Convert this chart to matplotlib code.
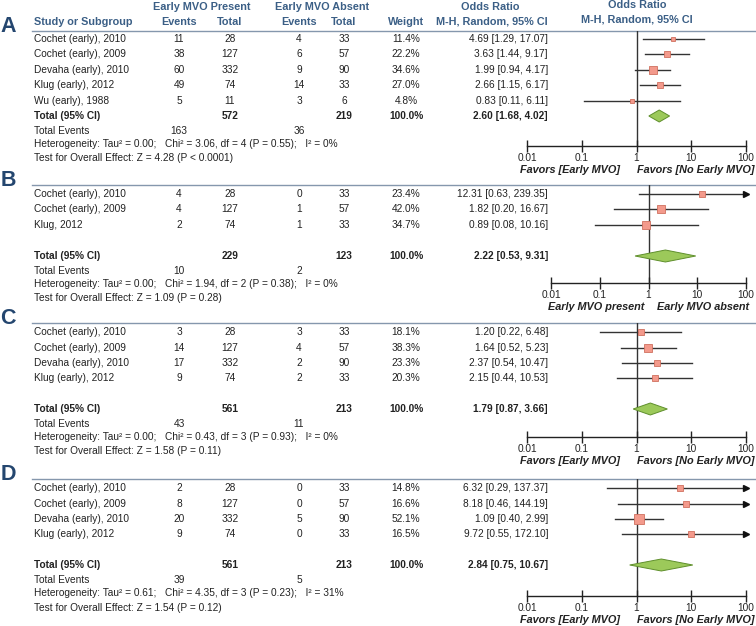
import numpy as np
import matplotlib
matplotlib.use("Agg")
import matplotlib.pyplot as plt

plt.rcParams['font.family'] = ['Liberation Sans', 'DejaVu Sans']

W, H = 756, 626
TXT = '#222222'
HEAD = '#3b5f86'
LETTER = '#24466f'
RULE = '#8597ad'
SQ_FACE, SQ_EDGE = '#f39a8c', '#d0705f'
DIA_FACE, DIA_EDGE = '#9cc95a', '#5f8f2c'
FS = 7.3

# ---- data ----
a_study = ["Cochet (early), 2010", "Cochet (early), 2009", "Devaha (early), 2010",
           "Klug (early), 2012", "Wu (early), 1988"]
a_ev_pres = [11, 38, 60, 49, 5]
a_n_pres = [28, 127, 332, 74, 11]
a_ev_abs = [4, 6, 9, 14, 3]
a_n_abs = [33, 57, 90, 33, 6]
a_weight = [11.4, 22.2, 34.6, 27.0, 4.8]
a_or = [4.69, 3.63, 1.99, 2.66, 0.83]
a_lo = [1.29, 1.44, 0.94, 1.15, 0.11]
a_hi = [17.07, 9.17, 4.17, 6.17, 6.11]
a_pool = (2.60, 1.68, 4.02)
a_tot = (572, 219)
a_tev = (163, 36)
a_het = "Heterogeneity: Tau² = 0.00;   Chi² = 3.06, df = 4 (P = 0.55);   I² = 0%"
a_test = "Test for Overall Effect: Z = 4.28 (P < 0.0001)"

b_study = ["Cochet (early), 2010", "Cochet (early), 2009", "Klug, 2012"]
b_ev_pres = [4, 4, 2]
b_n_pres = [28, 127, 74]
b_ev_abs = [0, 1, 1]
b_n_abs = [33, 57, 33]
b_weight = [23.4, 42.0, 34.7]
b_or = [12.31, 1.82, 0.89]
b_lo = [0.63, 0.20, 0.08]
b_hi = [239.35, 16.67, 10.16]
b_pool = (2.22, 0.53, 9.31)
b_tot = (229, 123)
b_tev = (10, 2)
b_het = "Heterogeneity: Tau² = 0.00;   Chi² = 1.94, df = 2 (P = 0.38);   I² = 0%"
b_test = "Test for Overall Effect: Z = 1.09 (P = 0.28)"

c_study = ["Cochet (early), 2010", "Cochet (early), 2009", "Devaha (early), 2010",
           "Klug (early), 2012"]
c_ev_pres = [3, 14, 17, 9]
c_n_pres = [28, 127, 332, 74]
c_ev_abs = [3, 4, 2, 2]
c_n_abs = [33, 57, 90, 33]
c_weight = [18.1, 38.3, 23.3, 20.3]
c_or = [1.20, 1.64, 2.37, 2.15]
c_lo = [0.22, 0.52, 0.54, 0.44]
c_hi = [6.48, 5.23, 10.47, 10.53]
c_pool = (1.79, 0.87, 3.66)
c_tot = (561, 213)
c_tev = (43, 11)
c_het = "Heterogeneity: Tau² = 0.00;   Chi² = 0.43, df = 3 (P = 0.93);   I² = 0%"
c_test = "Test for Overall Effect: Z = 1.58 (P = 0.11)"

d_study = ["Cochet (early), 2010", "Cochet (early), 2009", "Devaha (early), 2010",
           "Klug (early), 2012"]
d_ev_pres = [2, 8, 20, 9]
d_n_pres = [28, 127, 332, 74]
d_ev_abs = [0, 0, 5, 0]
d_n_abs = [33, 57, 90, 33]
d_weight = [14.8, 16.6, 52.1, 16.5]
d_or = [6.32, 8.18, 1.09, 9.72]
d_lo = [0.29, 0.46, 0.40, 0.55]
d_hi = [137.37, 144.19, 2.99, 172.10]
d_pool = (2.84, 0.75, 10.67)
d_tot = (561, 213)
d_tev = (39, 5)
d_het = "Heterogeneity: Tau² = 0.61;   Chi² = 4.35, df = 3 (P = 0.23);   I² = 31%"
d_test = "Test for Overall Effect: Z = 1.54 (P = 0.12)"

ticks = [0.01, 0.1, 1, 10, 100]
tick_labels = ["0.01", "0.1", "1", "10", "100"]
fav_std = ("Favors [Early MVO]", "Favors [No Early MVO]")
fav_b = ("Early MVO present", "Early MVO absent")

# layout (pixels)
panels = [
    dict(letter="A", rule=31, rows=[39, 54, 70, 85, 101], tot=116, tev=131, het=144, test=158,
         axis=146, x0=527, x1=746, fav=fav_std, favx=(620, 637),
         study=a_study, ep=a_ev_pres, np_=a_n_pres, ea=a_ev_abs, na=a_n_abs, w=a_weight,
         orr=a_or, lo=a_lo, hi=a_hi, pool=a_pool, totn=a_tot, tevn=a_tev, hettxt=a_het, testtxt=a_test),
    dict(letter="B", rule=185, rows=[194, 209, 225], tot=256, tev=271, het=284, test=298,
         axis=283, x0=551, x1=746, fav=fav_b, favx=(644, 657),
         study=b_study, ep=b_ev_pres, np_=b_n_pres, ea=b_ev_abs, na=b_n_abs, w=b_weight,
         orr=b_or, lo=b_lo, hi=b_hi, pool=b_pool, totn=b_tot, tevn=b_tev, hettxt=b_het, testtxt=b_test),
    dict(letter="C", rule=323, rows=[332, 348, 363, 378], tot=409, tev=424, het=437, test=451,
         axis=437, x0=527, x1=746, fav=fav_std, favx=(620, 637),
         study=c_study, ep=c_ev_pres, np_=c_n_pres, ea=c_ev_abs, na=c_n_abs, w=c_weight,
         orr=c_or, lo=c_lo, hi=c_hi, pool=c_pool, totn=c_tot, tevn=c_tev, hettxt=c_het, testtxt=c_test),
    dict(letter="D", rule=479, rows=[488, 504, 519, 534], tot=565, tev=580, het=593, test=608,
         axis=596, x0=527, x1=746, fav=fav_std, favx=(620, 637),
         study=d_study, ep=d_ev_pres, np_=d_n_pres, ea=d_ev_abs, na=d_n_abs, w=d_weight,
         orr=d_or, lo=d_lo, hi=d_hi, pool=d_pool, totn=d_tot, tevn=d_tev, hettxt=d_het, testtxt=d_test),
]

X_STUDY, X_EP, X_NP, X_EA, X_NA, X_W, X_OR = 34, 179, 230, 299, 344, 406, 548

fig = plt.figure(figsize=(W / 100, H / 100), dpi=100)
bg = fig.add_axes([0, 0, 1, 1])
bg.set_xlim(0, W)
bg.set_ylim(H, 0)
bg.axis('off')


def t(x, y, s, ha='center', **kw):
    kw.setdefault('fontsize', FS)
    kw.setdefault('color', TXT)
    bg.text(x, y, s, ha=ha, va='center', **kw)


# column headers (only on top)
hb = dict(fontsize=7.8, fontweight='bold', color=HEAD)
t(202, 7, "Early MVO Present", **hb)
t(322, 7, "Early MVO Absent", **hb)
t(X_STUDY, 22, "Study or Subgroup", ha='left', **hb)
t(X_EP, 22, "Events", **hb)
t(X_NP, 22, "Total", **hb)
t(X_EA, 22, "Events", **hb)
t(X_NA, 22, "Total", **hb)
t(X_W, 22, "Weight", **hb)
t(490, 7, "Odds Ratio", **hb)
t(492, 22, "M-H, Random, 95% CI", **hb)
t(637, 5, "Odds Ratio", **hb)
t(637, 19, "M-H, Random, 95% CI", **hb)

for p in panels:
    r = p['rule']
    bg.plot([32, W], [r, r], color=RULE, lw=1)
    bg.text(8, r - 4, p['letter'], ha='center', va='center', fontsize=15.5,
            fontweight='bold', color=LETTER)

    for i, y in enumerate(p['rows']):
        t(X_STUDY, y, p['study'][i], ha='left')
        t(X_EP, y, str(p['ep'][i]))
        t(X_NP, y, str(p['np_'][i]))
        t(X_EA, y, str(p['ea'][i]))
        t(X_NA, y, str(p['na'][i]))
        t(X_W, y, f"{p['w'][i]:.1f}%")
        t(X_OR, y, f"{p['orr'][i]:.2f} [{p['lo'][i]:.2f}, {p['hi'][i]:.2f}]", ha='right')

    y = p['tot']
    t(X_STUDY, y, "Total (95% CI)", ha='left', fontweight='bold')
    t(X_NP, y, str(p['totn'][0]), fontweight='bold')
    t(X_NA, y, str(p['totn'][1]), fontweight='bold')
    t(X_W, y, "100.0%", fontweight='bold')
    po, pl, ph = p['pool']
    t(X_OR, y, f"{po:.2f} [{pl:.2f}, {ph:.2f}]", ha='right', fontweight='bold')
    t(X_STUDY, p['tev'], "Total Events", ha='left')
    t(X_EP, p['tev'], str(p['tevn'][0]))
    t(X_EA, p['tev'], str(p['tevn'][1]))
    t(X_STUDY, p['het'], p['hettxt'], ha='left')
    t(X_STUDY, p['test'], p['testtxt'], ha='left')

    # forest axes
    ax = fig.add_axes([p['x0'] / W, 1 - p['axis'] / H,
                       (p['x1'] - p['x0']) / W, (p['axis'] - r) / H])
    ax.patch.set_alpha(0)
    ax.set_xscale('log')
    ax.set_xlim(0.01, 100)
    ax.set_ylim(p['axis'], r)
    for s in ['top', 'left', 'right']:
        ax.spines[s].set_visible(False)
    ax.spines['bottom'].set_color('#222222')
    ax.spines['bottom'].set_linewidth(1)
    ax.set_yticks([])
    ax.set_xticks(ticks)
    ax.set_xticklabels(tick_labels)
    ax.xaxis.set_minor_locator(matplotlib.ticker.NullLocator())
    ax.tick_params(axis='x', direction='inout', length=8, width=1, color='#222222',
                   labelsize=FS, labelcolor=TXT, pad=1)
    ax.axvline(1, color='#333333', lw=1, zorder=1)

    for i, y in enumerate(p['rows']):
        hi = min(p['hi'][i], 100)
        ax.plot([p['lo'][i], hi], [y, y], color='#333333', lw=1, zorder=2)
        if p['hi'][i] > 100:
            ax.plot([100], [y], marker='>', ms=4, color='#111111', clip_on=False, zorder=3)
        side = (1.2 * np.sqrt(p['w'][i]) + 0.5) * 0.72
        ax.plot([p['orr'][i]], [y], marker='s', ms=side, mfc=SQ_FACE, mec=SQ_EDGE,
                mew=0.6, zorder=4)

    yd = p['tot']
    ax.fill([pl, po, ph, po], [yd, yd - 6, yd, yd + 6], facecolor=DIA_FACE,
            edgecolor=DIA_EDGE, lw=0.7, zorder=4)

    fy = p['axis'] + 24
    t(p['favx'][0], fy, p['fav'][0], ha='right', fontsize=7.8, fontweight='bold', style='italic')
    t(p['favx'][1], fy, p['fav'][1], ha='left', fontsize=7.8, fontweight='bold', style='italic')

fig.savefig("out.png", dpi=100)
